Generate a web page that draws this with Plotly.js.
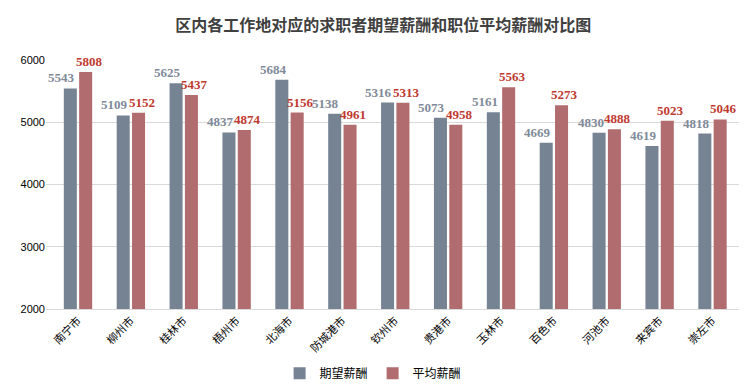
<!DOCTYPE html>
<html><head><meta charset="utf-8">
<script src="https://cdn.plot.ly/plotly-3.0.1.min.js"></script>
<style>body{margin:0;background:#fff}#c{width:756px;height:388px}</style>
</head><body><div id="c"></div>
<script>
const categories = ['南宁市','柳州市','桂林市','梧州市','北海市','防城港市','钦州市','贵港市','玉林市','百色市','河池市','来宾市','崇左市'];
const expected = [5543,5109,5625,4837,5684,5138,5316,5073,5161,4669,4830,4619,4818];
const average = [5808,5152,5437,4874,5156,4961,5313,4958,5563,5273,4888,5023,5046];
const yTicks = [2000,3000,4000,5000,6000];

const font = '"Noto Sans CJK SC", "Liberation Sans", sans-serif';
const labelFont = '"Liberation Serif", "DejaVu Serif", serif';
const traces = [
  {type:'bar', name:'期望薪酬', x:categories, y:expected, marker:{color:'#768393'}},
  {type:'bar', name:'平均薪酬', x:categories, y:average, marker:{color:'#b06c6e'}}
];
const annotations = [];
categories.forEach((c,i)=>{
  annotations.push({x:c, y:expected[i], xref:'x', yref:'y', text:String(expected[i]), showarrow:false,
    xanchor:'right', yanchor:'bottom', xshift:-1, yshift:1,
    font:{family:labelFont, size:13, color:'#7f8a99', weight:'bold'}});
  annotations.push({x:c, y:average[i], xref:'x', yref:'y', text:String(average[i]), showarrow:false,
    xanchor:'center', yanchor:'bottom', xshift:11, yshift:1,
    font:{family:labelFont, size:13, color:'#c0392f', weight:'bold'}});
});
const layout = {
  width:756, height:388,
  margin:{l:46, r:17, t:60, b:79, autoexpand:false},
  paper_bgcolor:'#fff', plot_bgcolor:'#fff',
  font:{family:font, size:11, color:'#000'},
  title:{text:'区内各工作地对应的求职者期望薪酬和职位平均薪酬对比图', x:0.507, xanchor:'center', y:0.935, yanchor:'middle',
         font:{family:font, size:16, color:'#404040', weight:'bold'}},
  bargap:0.42, bargroupgap:0.15,
  xaxis:{tickangle:-45, tickfont:{size:11, color:'#000'}, showline:true, linecolor:'#d9d9d9', linewidth:1, ticks:'', automargin:false},
  yaxis:{range:[2000,6000], tickvals:yTicks, tickfont:{family:'"Liberation Sans", sans-serif', size:11, color:'#000'},
         gridcolor:'#d9d9d9', zeroline:false, showline:false, ticks:'', automargin:false},
  annotations:annotations,
  showlegend:true,
  legend:{orientation:'h', x:0.472, xanchor:'center', y:-0.2, yanchor:'top', font:{size:12, color:'#000'}, itemwidth:30, tracegroupgap:0}
};
Plotly.newPlot('c', traces, layout, {displayModeBar:false});
</script></body></html>
